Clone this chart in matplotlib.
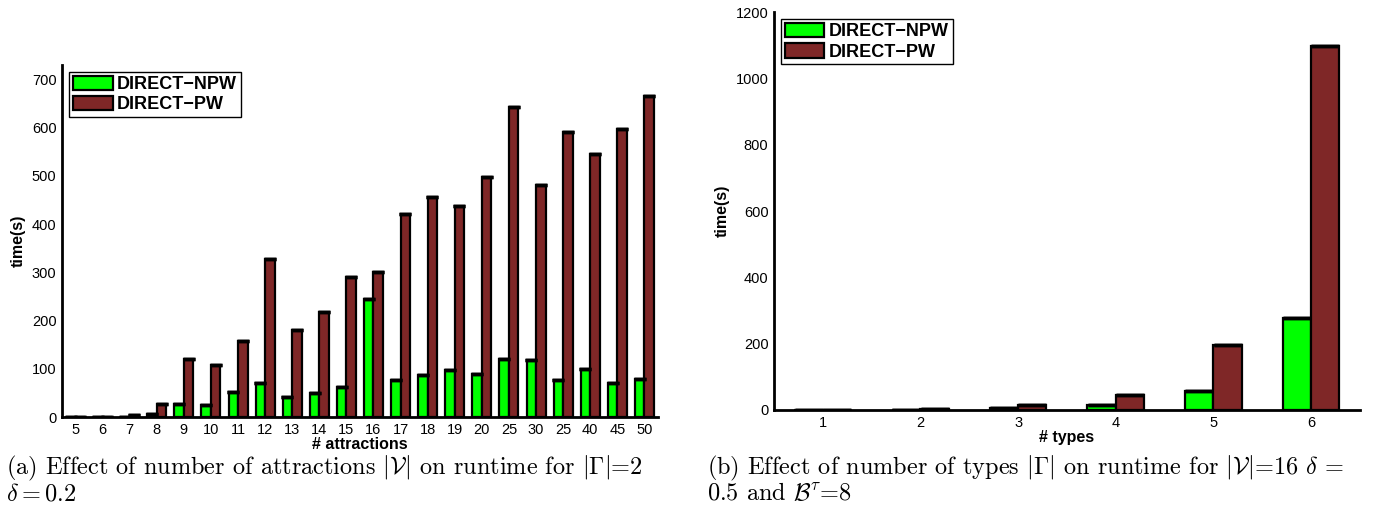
import matplotlib.pyplot as plt
import numpy as np

# data
attr_labels = ['5', '6', '7', '8', '9', '10', '11', '12', '13', '14', '15',
               '16', '17', '18', '19', '20', '25', '30', '25', '40', '45', '50']
attr_npw = [0.5, 0.5, 1, 6, 28, 24, 51, 70, 41, 50, 62,
            244, 77, 87, 98, 89, 121, 118, 77, 99, 70, 78]
attr_pw = [0.5, 1, 4, 27, 120, 108, 158, 328, 181, 218, 290,
           301, 421, 456, 437, 498, 642, 482, 592, 545, 597, 665]

type_labels = ['1', '2', '3', '4', '5', '6']
type_npw = [0.3, 1, 5, 15, 57, 278]
type_pw = [0.5, 2, 14, 45, 197, 1097]

GREEN = '#00ff00'
RED = '#7f2727'

plt.rcParams['font.family'] = ['Liberation Sans', 'DejaVu Sans']
plt.rcParams['mathtext.fontset'] = 'cm'


def draw_bars(ax, labels, npw, pw, w, cap):
    x = np.arange(1, len(labels) + 1)
    b1 = ax.bar(x - w / 2, npw, w, color=GREEN, edgecolor='k', linewidth=1.6,
                label='DIRECT\u2212NPW', zorder=2)
    b2 = ax.bar(x + w / 2, pw, w, color=RED, edgecolor='k', linewidth=1.6,
                label='DIRECT\u2212PW', zorder=2)
    ax.errorbar(x - w / 2, npw, yerr=0, fmt='none', ecolor='k', capsize=cap,
                capthick=2.5, zorder=3)
    ax.errorbar(x + w / 2, pw, yerr=0, fmt='none', ecolor='k', capsize=cap,
                capthick=2.5, zorder=3)
    ax.set_xticks(x)
    ax.set_xticklabels(labels)
    ax.set_xlim(0.5, len(labels) + 0.5)
    for s in ('top', 'right'):
        ax.spines[s].set_visible(False)
    for s in ('left', 'bottom'):
        ax.spines[s].set_linewidth(2)
    ax.tick_params(length=0, labelsize=10.5, pad=4)
    ax.set_ylabel('time(s)', fontweight='bold', fontsize=11.5)
    leg = ax.legend(handles=[b1, b2], loc='upper left', fancybox=False,
                    framealpha=1, edgecolor='k', handlelength=2.2,
                    handleheight=0.85, handletextpad=0.25, borderpad=0.2,
                    labelspacing=0.15, borderaxespad=0.4,
                    prop={'weight': 'bold', 'size': 13})
    leg.get_frame().set_linewidth(1)
    return ax


fig = plt.figure(figsize=(13.86, 5.08), dpi=100)

ax1 = fig.add_axes([0.0447, 0.179, 0.430, 0.693])
draw_bars(ax1, attr_labels, attr_npw, attr_pw, 0.35, 4)
ax1.set_ylim(0, 730)
ax1.set_yticks(range(0, 701, 100))
ax1.set_xlabel('# attractions', fontweight='bold', fontsize=11.5, labelpad=0)

ax2 = fig.add_axes([0.5584, 0.193, 0.4228, 0.783])
draw_bars(ax2, type_labels, type_npw, type_pw, 0.29, 10)
ax2.set_ylim(0, 1200)
ax2.set_yticks(range(0, 1201, 200))
ax2.set_xlabel('# types', fontweight='bold', fontsize=11.5, labelpad=0)

cap = dict(fontsize=17.5, family='cmr10', va='baseline', ha='left')
fig.text(0.004, 0.066,
         r'(a) Effect of number of attractions $|\mathcal{V}|$ on runtime for $|\Gamma|$=2',
         **cap)
fig.text(0.004, 0.015, r'$\delta = 0.2$', **cap)
fig.text(0.510, 0.066,
         r'(b) Effect of number of types $|\Gamma|$ on runtime for $|\mathcal{V}|$=16 $\delta$ =',
         **cap)
fig.text(0.510, 0.015, r'0.5 and $\mathcal{B}^{\tau}$=8', **cap)

fig.savefig('out.png', dpi=100)
